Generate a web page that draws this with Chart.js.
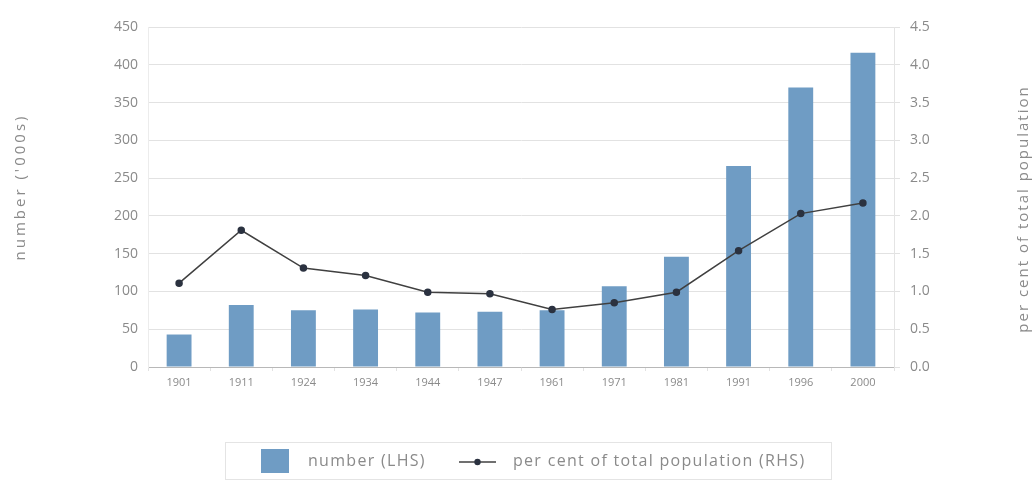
<!DOCTYPE html>
<html>
<head>
<meta charset="utf-8">
<script src="https://cdn.jsdelivr.net/npm/chart.js@4.4.0/dist/chart.umd.min.js"></script>
<style>
  html, body { margin: 0; padding: 0; background: #fff; }
  #wrap { position: relative; width: 1035px; height: 482px; }
  #legend {
    position: absolute; left: 225px; top: 442px; width: 607px; height: 38px;
    border: 1px solid #e4e4e4; box-sizing: border-box;
    font-family: 'Open Sans', sans-serif; font-size: 16px; letter-spacing: 1.3px; color: #8a8a8a;
  }
  #legend .item { position: absolute; top: 6px; white-space: nowrap; }
  #legend .swatch { position: absolute; left: 35px; top: 6px; width: 28px; height: 24px; background: #6f9cc4; }
  #legend svg { position: absolute; left: 233px; top: 12px; }
</style>
</head>
<body>
<div id="wrap">
  <canvas id="popChart" width="1035" height="482"></canvas>
  <div id="legend">
    <div class="swatch"></div>
    <div class="item" style="left:82px">number (LHS)</div>
    <svg width="37" height="14"><line x1="0" y1="7" x2="37" y2="7" stroke="#404040" stroke-width="1.5"/><circle cx="18.5" cy="7" r="3.2" fill="#2b3240"/></svg>
    <div class="item" style="left:287px">per cent of total population (RHS)</div>
  </div>
</div>
<script>
const years = ['1901', '1911', '1924', '1934', '1944', '1947', '1961', '1971', '1981', '1991', '1996', '2000'];
const numberThousands = [43, 82, 75, 76, 72, 73, 75, 107, 146, 266, 370, 416];
const percentOfPopulation = [1.11, 1.81, 1.31, 1.21, 0.99, 0.97, 0.76, 0.85, 0.99, 1.54, 2.03, 2.17];
const leftTicks = [0, 50, 100, 150, 200, 250, 300, 350, 400, 450];
const rightTicks = [0, 0.5, 1, 1.5, 2, 2.5, 3, 3.5, 4, 4.5];

const fontFamily = "'Open Sans', sans-serif";
const tickColor = '#8a8a8a';

// rotated axis titles, both reading bottom to top
const axisTitles = {
  id: 'axisTitles',
  afterDraw(chart) {
    const { ctx } = chart;
    ctx.save();
    ctx.fillStyle = tickColor;
    ctx.font = '15px ' + fontFamily;
    ctx.textAlign = 'center';
    ctx.textBaseline = 'middle';
    [[21, 187, "number ('000s)", '3px'], [1024, 209, 'per cent of total population', '2px']].forEach(([x, y, text, spacing]) => {
      ctx.save();
      ctx.letterSpacing = spacing;
      ctx.translate(x, y);
      ctx.rotate(-Math.PI / 2);
      ctx.fillText(text, 0, 0);
      ctx.restore();
    });
    ctx.restore();
  }
};

new Chart(document.getElementById('popChart').getContext('2d'), {
  data: {
    labels: years,
    datasets: [
      {
        type: 'line',
        label: 'per cent of total population (RHS)',
        data: percentOfPopulation,
        yAxisID: 'y1',
        borderColor: '#404040',
        borderWidth: 1.5,
        pointRadius: 3,
        pointBackgroundColor: '#2b3240',
        pointBorderColor: '#2b3240',
        tension: 0,
        order: 0
      },
      {
        type: 'bar',
        label: 'number (LHS)',
        data: numberThousands,
        yAxisID: 'y',
        backgroundColor: '#6f9cc4',
        barPercentage: 0.4,
        categoryPercentage: 1,
        order: 1
      }
    ]
  },
  options: {
    responsive: false,
    animation: false,
    layout: { padding: { top: 27, bottom: 85, left: 0, right: 0 } },
    plugins: {
      legend: { display: false },
      tooltip: { enabled: false }
    },
    scales: {
      x: {
        offset: true,
        grid: { display: true, drawOnChartArea: false, tickLength: 4, color: '#e2e2e2', offset: true },
        border: { color: '#b8b8b8' },
        ticks: { color: tickColor, font: { family: fontFamily, size: 11 }, padding: 5, maxRotation: 0 },
        afterFit(scale) { scale.height = 30; }
      },
      y: {
        position: 'left',
        min: 0,
        max: 450,
        afterBuildTicks(scale) { scale.ticks = leftTicks.map(v => ({ value: v })); },
        grid: { color: '#e2e2e2', drawTicks: false },
        border: { color: '#ececec' },
        ticks: { color: tickColor, font: { family: fontFamily, size: 14 }, padding: 10 },
        afterFit(scale) { scale.width = 148; }
      },
      y1: {
        position: 'right',
        min: 0,
        max: 4.5,
        afterBuildTicks(scale) { scale.ticks = rightTicks.map(v => ({ value: v })); },
        grid: { drawOnChartArea: false, tickLength: 6, color: '#e2e2e2' },
        border: { color: '#e4e4e4' },
        ticks: { color: tickColor, font: { family: fontFamily, size: 14 }, padding: 10, callback: v => v.toFixed(1) },
        afterFit(scale) { scale.width = 141; }
      }
    }
  },
  plugins: [axisTitles]
});
</script>
</body>
</html>
